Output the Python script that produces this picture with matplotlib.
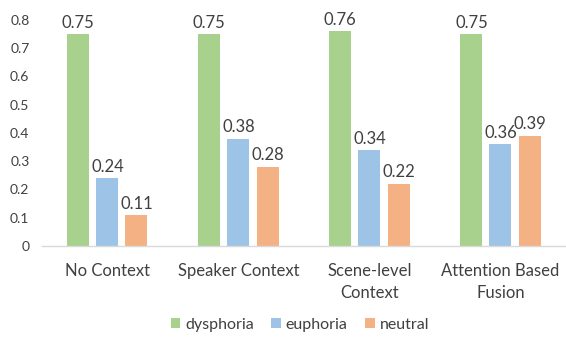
import matplotlib
matplotlib.use("Agg")
import matplotlib.pyplot as plt
import numpy as np

plt.rcParams['font.family'] = ['Lato', 'DejaVu Sans']

categories = ["No Context", "Speaker Context", "Scene-level\nContext", "Attention Based\nFusion"]
series_names = ["dysphoria", "euphoria", "neutral"]
dysphoria = [0.75, 0.75, 0.76, 0.75]
euphoria = [0.24, 0.38, 0.34, 0.36]
neutral = [0.11, 0.28, 0.22, 0.39]
yticks = [0, 0.1, 0.2, 0.3, 0.4, 0.5, 0.6, 0.7, 0.8]

colors = ["#a9d18e", "#9dc3e6", "#f4b183"]
text_color = "#404040"

fig = plt.figure(figsize=(5.66, 3.37), dpi=100)
ax = fig.add_axes([0.074, 0.27, 0.926, 0.671])

x = np.arange(len(categories))
width = 0.168
offset = 0.222
for i, (vals, name) in enumerate(zip([dysphoria, euphoria, neutral], series_names)):
    pos = x + (i - 1) * offset
    bars = ax.bar(pos, vals, width=width, color=colors[i], label=name, zorder=2)
    for b, v in zip(bars, vals):
        ax.text(b.get_x() + b.get_width() / 2, v + 0.012, f"{v:.2f}",
                ha="center", va="bottom", fontsize=12, color=text_color)

ax.set_xlim(-0.5, len(categories) - 0.5)
ax.set_ylim(0, 0.8)
ax.set_yticks(yticks)
ax.set_yticklabels([f"{t:g}" for t in yticks])
ax.set_xticks(x)
ax.set_xticklabels(categories, fontsize=12, color=text_color, linespacing=1.5)
ax.tick_params(axis="y", length=0, labelsize=10, labelcolor=text_color, pad=9)
ax.tick_params(axis="x", length=0, pad=12)

for s in ["top", "right", "left"]:
    ax.spines[s].set_visible(False)
ax.spines["bottom"].set_color("#d9d9d9")
ax.spines["bottom"].set_linewidth(1.0)

leg = fig.legend(loc="center", bbox_to_anchor=(0.53, 0.036), ncol=3, frameon=False,
                 fontsize=11.5, handlelength=0.6, handleheight=0.6, handletextpad=0.3,
                 columnspacing=1.1)
for t in leg.get_texts():
    t.set_color(text_color)

fig.savefig("out.png", dpi=100)
